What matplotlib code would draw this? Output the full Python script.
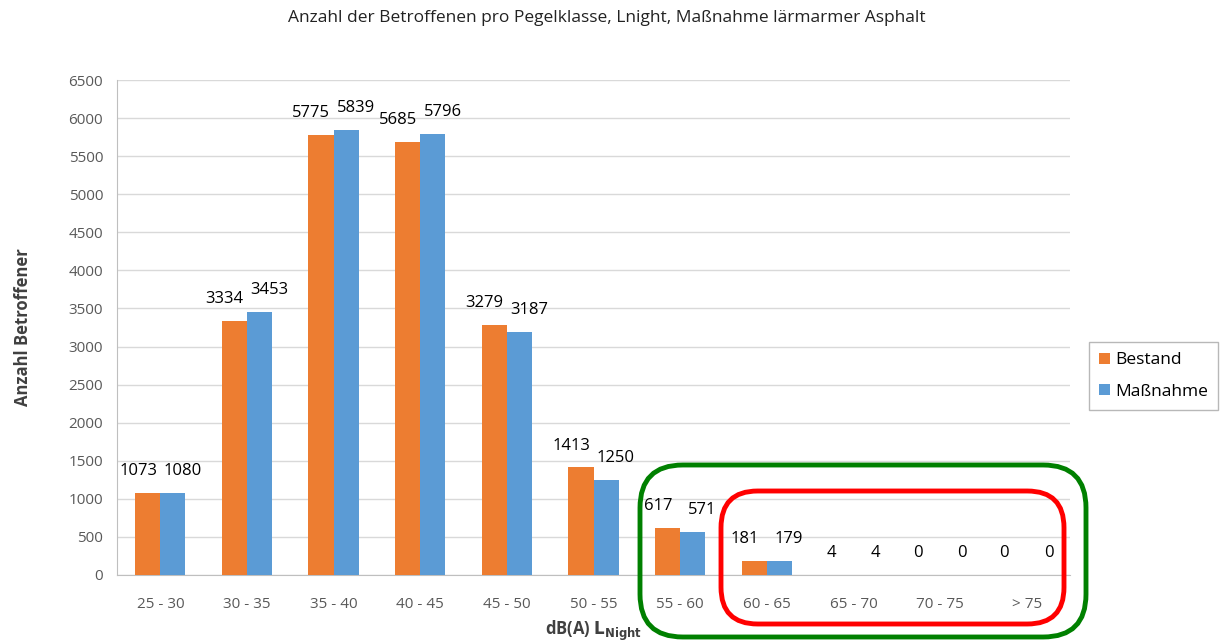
import matplotlib

matplotlib.use("Agg")
import matplotlib.pyplot as plt
import numpy as np
from matplotlib.patches import FancyBboxPatch

categories = ["25 - 30", "30 - 35", "35 - 40", "40 - 45", "45 - 50", "50 - 55",
              "55 - 60", "60 - 65", "65 - 70", "70 - 75", "> 75"]
bestand = [1073, 3334, 5775, 5685, 3279, 1413, 617, 181, 4, 0, 0]
massnahme = [1080, 3453, 5839, 5796, 3187, 1250, 571, 179, 4, 0, 0]
series_names = ["Bestand", "Maßnahme"]

ORANGE = "#ED7D31"
BLUE = "#5B9BD5"
GREY = "#595959"

plt.rcParams["font.family"] = ["Open Sans", "DejaVu Sans"]

fig = plt.figure(figsize=(12.23, 6.42), dpi=100)
ax = fig.add_axes([117 / 1223, 1 - 575 / 642, (1070 - 117) / 1223, (575 - 80) / 642])

x = np.arange(len(categories))
w = 0.29
b1 = ax.bar(x - w / 2, bestand, w, color=ORANGE, label=series_names[0], zorder=3)
b2 = ax.bar(x + w / 2, massnahme, w, color=BLUE, label=series_names[1], zorder=3)

# data labels, nudged apart like Excel does
for xs, vals, dx in ((x - w / 2, bestand, -7), (x + w / 2, massnahme, 7)):
    for xi, v in zip(xs, vals):
        ax.annotate(f"{v}", (xi, v), xytext=(dx, 10), textcoords="offset points",
                    ha="center", va="bottom", fontsize=12, color="black")

ax.set_xlim(-0.5, len(categories) - 0.5)
ax.set_ylim(0, 6500)
ax.set_yticks(np.arange(0, 6501, 500))
ax.set_xticks(x)
ax.set_xticklabels(categories)
ax.tick_params(axis="both", colors=GREY, labelsize=11, length=0)
ax.tick_params(axis="x", pad=16)
ax.tick_params(axis="y", pad=10)
ax.grid(axis="y", color="#D9D9D9", linewidth=1, zorder=0)
for s in ("top", "right"):
    ax.spines[s].set_visible(False)
for s in ("left", "bottom"):
    ax.spines[s].set_color("#BFBFBF")

ax.set_ylabel("Anzahl Betroffener", fontsize=12, fontweight="bold", color="#404040", labelpad=26)
ax.set_xlabel(r"dB(A) $\mathbf{L_{Night}}$", fontsize=12, fontweight="bold", color="#404040", labelpad=5)

fig.text(0.496, 1 - 18 / 642, "Anzahl der Betroffenen pro Pegelklasse, Lnight, Maßnahme lärmarmer Asphalt",
         ha="center", va="center", fontsize=12.5, color="#222222")

leg = fig.legend(loc="center left", bbox_to_anchor=(1089 / 1223, 1 - 376 / 642), fontsize=12.5,
                 frameon=True, fancybox=False, handlelength=0.6, handleheight=0.6,
                 labelspacing=0.9, borderpad=0.6, handletextpad=0.3, borderaxespad=0)
leg.get_frame().set_edgecolor("#A6A6A6")
leg.get_frame().set_linewidth(1.0)

# highlight boxes
green = FancyBboxPatch((640 / 1223, 1 - 637 / 642), (1086 - 640) / 1223, (637 - 465) / 642,
                       boxstyle="round,pad=0,rounding_size=0.035", transform=fig.transFigure,
                       fill=False, edgecolor="#008000", linewidth=3.5, mutation_aspect=1223 / 642)
red = FancyBboxPatch((721 / 1223, 1 - 624 / 642), (1064 - 721) / 1223, (624 - 491) / 642,
                     boxstyle="round,pad=0,rounding_size=0.03", transform=fig.transFigure,
                     fill=False, edgecolor="#FF0000", linewidth=3.5, mutation_aspect=1223 / 642)
fig.patches.extend([green, red])

fig.savefig("out.png", dpi=100)
